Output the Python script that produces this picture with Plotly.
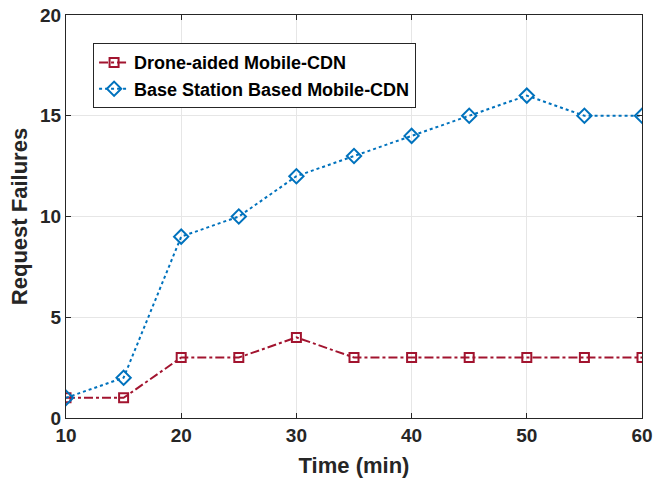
import plotly.graph_objects as go

time_min = [10, 15, 20, 25, 30, 35, 40, 45, 50, 55, 60]
drone_aided = [1, 1, 3, 3, 4, 3, 3, 3, 3, 3, 3]
base_station = [1, 2, 9, 10, 12, 13, 14, 15, 16, 15, 15]
x_ticks = [10, 20, 30, 40, 50, 60]
y_ticks = [0, 5, 10, 15, 20]

RED = "#A2142F"
BLUE = "#0072BD"
FONT = "Liberation Sans, Arial, sans-serif"

fig = go.Figure()
fig.add_trace(go.Scatter(
    x=time_min, y=drone_aided, mode="lines+markers",
    name="Drone-aided Mobile-CDN",
    line=dict(color=RED, width=2, dash="dashdot"),
    marker=dict(symbol="square-open", size=9, color=RED, line=dict(width=2, color=RED)),
))
fig.add_trace(go.Scatter(
    x=time_min, y=base_station, mode="lines+markers",
    name="Base Station Based Mobile-CDN",
    line=dict(color=BLUE, width=2, dash="dot"),
    marker=dict(symbol="diamond-open", size=11, color=BLUE, line=dict(width=2, color=BLUE)),
))

axis_common = dict(
    showline=True, linecolor="#262626", linewidth=1, mirror="ticks",
    ticks="inside", ticklen=5, tickcolor="#262626",
    showgrid=True, gridcolor="#E6E6E6", gridwidth=1, zeroline=False,
    automargin=False,
    tickfont=dict(family=FONT, size=19, color="#262626", weight="bold"),
)

fig.update_layout(
    width=653, height=482,
    margin=dict(l=66, r=11, t=15, b=64),
    paper_bgcolor="white", plot_bgcolor="white",
    font=dict(family=FONT, color="#262626"),
    xaxis=dict(range=[10, 60], tickvals=x_ticks,
               title=dict(text="<b>Time (min)</b>", font=dict(family=FONT, size=22, color="#262626"), standoff=12),
               **axis_common),
    yaxis=dict(range=[0, 20], tickvals=y_ticks,
               title=dict(text="<b>Request Failures</b>", font=dict(family=FONT, size=22, color="#262626"), standoff=6),
               **axis_common),
    legend=dict(x=0.047, y=0.93, xanchor="left", yanchor="top",
                bgcolor="white", bordercolor="#262626", borderwidth=1,
                font=dict(family=FONT, size=18, color="black", weight="bold"),
                itemwidth=30, tracegroupgap=0),
    showlegend=True,
)

fig.write_html("out.html", config={"displayModeBar": False},
               post_script="document.body.style.margin='0';document.body.style.overflow='hidden';")
